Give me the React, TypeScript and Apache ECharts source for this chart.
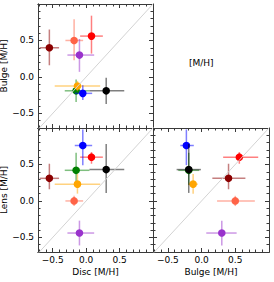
import React, { useEffect, useRef } from "react";
import * as echarts from "echarts";

// Galaxies (one colour per object)
const colors = ["#8b0000", "#ff6347", "#ff0000", "#9932cc", "#008000", "#ffa500", "#0000ff", "#000000"];

// Disc [M/H]
const disc = [-0.55, -0.18, 0.08, -0.1, -0.15, -0.13, -0.05, 0.3];
const discErrLo = [0.145, 0.13, 0.17, 0.18, 0.17, 0.34, 0.12, 0.25];
const discErrHi = [0.145, 0.135, 0.17, 0.22, 0.2, 0.34, 0.14, 0.27];

// Bulge [M/H]
const bulge = [0.4, 0.5, 0.56, 0.3, -0.19, -0.125, -0.225, -0.19];
const bulgeErrLo = [0.24, 0.27, 0.24, 0.23, 0.155, 0.07, 0.09, 0.18];
const bulgeErrHi = [0.25, 0.29, 0.28, 0.22, 0.155, 0.07, 0.11, 0.18];

// Lens [M/H]
const lens = [0.31, 0.0, 0.6, -0.44, 0.42, 0.23, 0.76, 0.43];
const lensErrLo = [0.15, 0.07, 0.09, 0.17, 0.2, 0.13, 0.27, 0.32];
const lensErrHi = [0.2, 0.07, 0.07, 0.17, 0.24, 0.14, 0.22, 0.35];

// Axis ticks
const majorTicks = [-0.5, 0, 0.5];
const minorTicks = [-0.7, -0.6, -0.5, -0.4, -0.3, -0.2, -0.1, 0, 0.1, 0.2, 0.3, 0.4, 0.5, 0.6, 0.7, 0.8, 0.9, 1.0];
const xRange = [-0.72, 1.0];
const yRange = [-0.7, 1.0];
const diagonal = [[-1.5, -1.5], [1.5, 1.5]];

const FONT = "DejaVu Sans";
const FRAME = "#3a3a3a";

const fmt = (v: number) => (v < 0 ? "\u2212" : "") + Math.abs(v).toFixed(1);

type AxisOpts = { labels?: boolean; name?: string };

function sideAxes(gridIndex: number, position: string, range: number[], opts: AxisOpts, isY: boolean) {
  const base = {
    type: "value",
    gridIndex,
    position,
    min: range[0],
    max: range[1],
    splitLine: { show: false },
    axisLine: { show: true, onZero: false, lineStyle: { color: FRAME, width: 1 } },
  };
  const minor = {
    ...base,
    axisTick: { show: true, inside: true, length: 2.5, customValues: minorTicks, lineStyle: { color: FRAME, width: 1 } },
    axisLabel: { show: false },
  };
  const major: any = {
    ...base,
    axisTick: { show: true, inside: true, length: 4, customValues: majorTicks, lineStyle: { color: FRAME, width: 1 } },
    axisLabel: {
      show: !!opts.labels,
      customValues: majorTicks,
      formatter: fmt,
      fontSize: 9,
      fontFamily: FONT,
      color: "#000",
      margin: isY ? 4 : 3,
      showMinLabel: true,
      showMaxLabel: true,
    },
  };
  if (opts.name) {
    major.name = opts.name;
    major.nameLocation = "middle";
    major.nameGap = isY ? 23 : 15;
    major.nameTextStyle = { fontSize: 9, fontFamily: FONT, color: "#000" };
    if (isY) major.nameRotate = 90;
  }
  return [minor, major];
}

const panels = [
  { grid: { left: 38, top: 4, width: 115, height: 124 }, xs: disc, xlo: discErrLo, xhi: discErrHi, ys: bulge, ylo: bulgeErrLo, yhi: bulgeErrHi, xLabels: false, xName: "", yLabels: true, yName: "Bulge [M/H]" },
  { grid: { left: 38, top: 128, width: 115, height: 124 }, xs: disc, xlo: discErrLo, xhi: discErrHi, ys: lens, ylo: lensErrLo, yhi: lensErrHi, xLabels: true, xName: "Disc [M/H]", yLabels: true, yName: "Lens [M/H]" },
  { grid: { left: 153, top: 128, width: 116, height: 124 }, xs: bulge, xlo: bulgeErrLo, xhi: bulgeErrHi, ys: lens, ylo: lensErrLo, yhi: lensErrHi, xLabels: true, xName: "Bulge [M/H]", yLabels: false, yName: "" },
];

function buildOption() {
  const grids: any[] = [];
  const xAxis: any[] = [];
  const yAxis: any[] = [];
  const series: any[] = [];
  panels.forEach((p, g) => {
    grids.push({ ...p.grid, containLabel: false, outerBoundsMode: "none" });
    const xi = xAxis.length;
    xAxis.push(...sideAxes(g, "bottom", xRange, { labels: p.xLabels, name: p.xName || undefined }, false));
    xAxis.push(...sideAxes(g, "top", xRange, {}, false));
    const yi = yAxis.length;
    yAxis.push(...sideAxes(g, "left", yRange, { labels: p.yLabels, name: p.yName || undefined }, true));
    yAxis.push(...sideAxes(g, "right", yRange, {}, true));

    series.push({
      type: "line",
      xAxisIndex: xi,
      yAxisIndex: yi,
      data: diagonal,
      showSymbol: false,
      symbol: "none",
      clip: true,
      silent: true,
      lineStyle: { color: "#d3d3d3", width: 1 },
    });

    const data = p.xs.map((x, i) => [x, p.ys[i], p.xlo[i], p.xhi[i], p.ylo[i], p.yhi[i]]);
    series.push({
      type: "custom",
      xAxisIndex: xi,
      yAxisIndex: yi,
      data,
      encode: { x: 0, y: 1 },
      silent: true,
      renderItem: (params: any, api: any) => {
        const i = params.dataIndex;
        const x = api.value(0);
        const y = api.value(1);
        const c = api.coord([x, y]);
        const l = api.coord([x - api.value(2), y]);
        const r = api.coord([x + api.value(3), y]);
        const b = api.coord([x, y - api.value(4)]);
        const t = api.coord([x, y + api.value(5)]);
        const color = colors[i];
        return {
          type: "group",
          children: [
            { type: "line", shape: { x1: l[0], y1: l[1], x2: r[0], y2: r[1] }, style: { stroke: color, lineWidth: 1.5, opacity: 0.5 } },
            { type: "line", shape: { x1: b[0], y1: b[1], x2: t[0], y2: t[1] }, style: { stroke: color, lineWidth: 1.5, opacity: 0.5 } },
            { type: "circle", shape: { cx: c[0], cy: c[1], r: 3.8 }, style: { fill: color } },
          ],
        };
      },
    });
  });

  return {
    animation: false,
    grid: grids,
    xAxis,
    yAxis,
    series,
    graphic: [
      {
        type: "text",
        left: 189,
        top: 58,
        style: { text: "[M/H]", fontSize: 9, fontFamily: FONT, fill: "#000" },
      },
    ],
  };
}

export default function App() {
  const ref = useRef<HTMLDivElement>(null);
  useEffect(() => {
    if (!ref.current) return;
    const chart = echarts.init(ref.current, undefined, { renderer: "svg" });
    chart.setOption(buildOption() as any);
    return () => chart.dispose();
  }, []);
  return <div ref={ref} style={{ position: "absolute", left: 0, top: 0, width: 274, height: 282, background: "#fff" }} />;
}
